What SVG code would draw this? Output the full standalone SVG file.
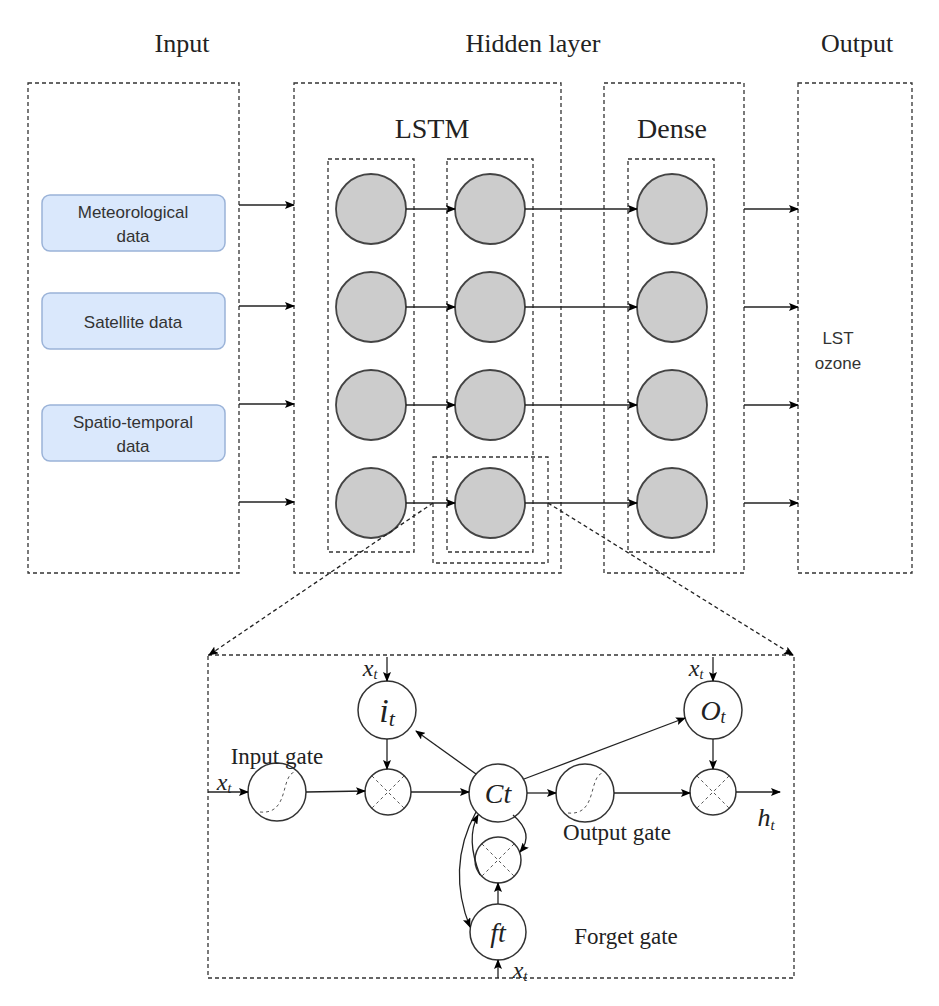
<svg xmlns="http://www.w3.org/2000/svg" width="939" height="1006" viewBox="0 0 939 1006">
<defs>
<marker id="a" markerWidth="10" markerHeight="8" refX="9" refY="4" orient="auto" markerUnits="userSpaceOnUse"><path d="M0,0 L10,4 L0,8 L2,4 z" fill="#000"/></marker>
<style>
.d{fill:none;stroke:#333;stroke-width:1.3;stroke-dasharray:4 3}
.n{fill:#cccccc;stroke:#444;stroke-width:1.8}
.l{stroke:#222;stroke-width:1.3;fill:none;marker-end:url(#a)}
.b{fill:#dae8fc;stroke:#9bb3d8;stroke-width:1.5}
.s{font-family:"Liberation Sans",Arial,sans-serif;font-size:17px;fill:#333;text-anchor:middle}
.t{font-family:"Liberation Serif","Times New Roman",serif;fill:#222;text-anchor:middle}
.c{fill:#fff;stroke:#333;stroke-width:1.5}
.x{stroke:#555;stroke-width:1;stroke-dasharray:3 3;fill:none}
</style>
</defs>
<rect width="939" height="1006" fill="#fff"/>
<g id="titles">
<text class="t" x="182" y="52" font-size="26">Input</text>
<text class="t" x="533" y="52" font-size="26">Hidden layer</text>
<text class="t" x="857" y="52" font-size="26">Output</text>
<text class="t" x="432" y="138" font-size="28">LSTM</text>
<text class="t" x="672" y="138" font-size="28">Dense</text>
</g>
<g id="frames">
<rect class="d" x="28" y="83" width="211" height="490"/>
<rect class="d" x="294" y="83" width="267" height="490"/>
<rect class="d" x="604" y="83" width="140" height="490"/>
<rect class="d" x="798" y="83" width="114" height="490"/>
<rect class="d" x="328" y="159" width="86" height="393"/>
<rect class="d" x="447" y="159" width="86" height="393"/>
<rect class="d" x="628" y="159" width="86" height="393"/>
<rect class="d" x="433" y="457" width="115" height="106"/>
<rect class="d" x="208" y="655" width="586" height="323"/>
</g>
<g id="inputs">
<rect class="b" x="42" y="195" width="183" height="56" rx="8"/>
<text class="s" x="133" y="218">Meteorological</text><text class="s" x="133" y="242">data</text>
<rect class="b" x="42" y="293" width="183" height="56" rx="8"/>
<text class="s" x="133" y="328">Satellite data</text>
<rect class="b" x="42" y="405" width="183" height="56" rx="8"/>
<text class="s" x="133" y="428">Spatio-temporal</text><text class="s" x="133" y="452">data</text>
<text class="s" x="838" y="344" font-size="19">LST</text><text class="s" x="838" y="369" font-size="19">ozone</text>
</g>
<g id="neurons">
<circle class="n" cx="371" cy="209" r="35"/><circle class="n" cx="371" cy="307" r="35"/><circle class="n" cx="371" cy="405" r="35"/><circle class="n" cx="371" cy="503" r="35"/>
<circle class="n" cx="490" cy="209" r="35"/><circle class="n" cx="490" cy="307" r="35"/><circle class="n" cx="490" cy="405" r="35"/><circle class="n" cx="490" cy="503" r="35"/>
<circle class="n" cx="672" cy="209" r="35"/><circle class="n" cx="672" cy="307" r="35"/><circle class="n" cx="672" cy="405" r="35"/><circle class="n" cx="672" cy="503" r="35"/>
</g>
<g id="connectors">
<path class="l" d="M239,205H294"/><path class="l" d="M239,306H294"/><path class="l" d="M239,404H294"/><path class="l" d="M239,502H294"/>
<path class="l" d="M406,209H455"/><path class="l" d="M406,307H455"/><path class="l" d="M406,405H455"/><path class="l" d="M406,503H455"/>
<path class="l" d="M525,209H637"/><path class="l" d="M525,307H637"/><path class="l" d="M525,405H637"/><path class="l" d="M525,503H637"/>
<path class="l" d="M744,209H798"/><path class="l" d="M744,307H798"/><path class="l" d="M744,405H798"/><path class="l" d="M744,503H798"/>
<path class="l" d="M433,503L209,655" stroke-dasharray="4 3"/>
<path class="l" d="M548,503L793,655" stroke-dasharray="4 3"/>
</g>
<g id="cell">
<circle class="c" cx="277" cy="792" r="29"/><path class="x" d="M260,812 C290,815 280,775 295,772"/>
<circle class="c" cx="388" cy="792" r="23"/><path class="x" d="M372,776L404,808M404,776L372,808"/>
<circle class="c" cx="387" cy="710" r="29"/>
<circle class="c" cx="498" cy="793" r="29"/>
<circle class="c" cx="585" cy="793" r="29"/><path class="x" d="M568,813 C598,816 588,776 603,773"/>
<circle class="c" cx="713" cy="710" r="29"/>
<circle class="c" cx="713" cy="792" r="23"/><path class="x" d="M697,776L729,808M729,776L697,808"/>
<circle class="c" cx="498" cy="860" r="23"/><path class="x" d="M482,844L514,876M514,844L482,876"/>
<circle class="c" cx="498" cy="932" r="28"/>
<text class="t" font-style="italic" x="387" y="722" font-size="34">i<tspan font-size="22" dy="4">t</tspan></text>
<text class="t" font-style="italic" x="498" y="803" font-size="28">Ct</text>
<text class="t" font-style="italic" x="713" y="720" font-size="28">O<tspan font-size="18" dy="3">t</tspan></text>
<text class="t" font-style="italic" x="498" y="942" font-size="28">ft</text>
<text class="t" x="277" y="764" font-size="23">Input gate</text>
<text class="t" x="617" y="840" font-size="23">Output gate</text>
<text class="t" x="626" y="944" font-size="23">Forget gate</text>
<text class="t" font-style="italic" x="224" y="790" font-size="24">x<tspan font-size="14" dy="3">t</tspan></text>
<text class="t" font-style="italic" x="370" y="676" font-size="24">x<tspan font-size="14" dy="3">t</tspan></text>
<text class="t" font-style="italic" x="696" y="676" font-size="24">x<tspan font-size="14" dy="3">t</tspan></text>
<text class="t" font-style="italic" x="520" y="978" font-size="24">x<tspan font-size="14" dy="3">t</tspan></text>
<text class="t" font-style="italic" x="766" y="826" font-size="26">h<tspan font-size="15" dy="4">t</tspan></text>
<path class="l" d="M208,792H248"/>
<path class="l" d="M306,792L365,791"/>
<path class="l" d="M387,657V681"/>
<path class="l" d="M387,739V769"/>
<path class="l" d="M411,792H469"/>
<path class="l" d="M476,774L416,731"/>
<path class="l" d="M524,779L685,718"/>
<path class="l" d="M527,793H556"/>
<path class="l" d="M614,793H690"/>
<path class="l" d="M713,657V681"/>
<path class="l" d="M713,739V769"/>
<path class="l" d="M736,792H780"/>
<path class="l" d="M498,904V883"/>
<path class="l" d="M498,978V960"/>
<path class="l" d="M480,875 C470,850 470,830 478,815"/>
<path class="l" d="M513,815 C528,828 530,840 520,852"/>
<path class="l" d="M476,812 C455,850 455,890 470,927"/>
</g>
</svg>
